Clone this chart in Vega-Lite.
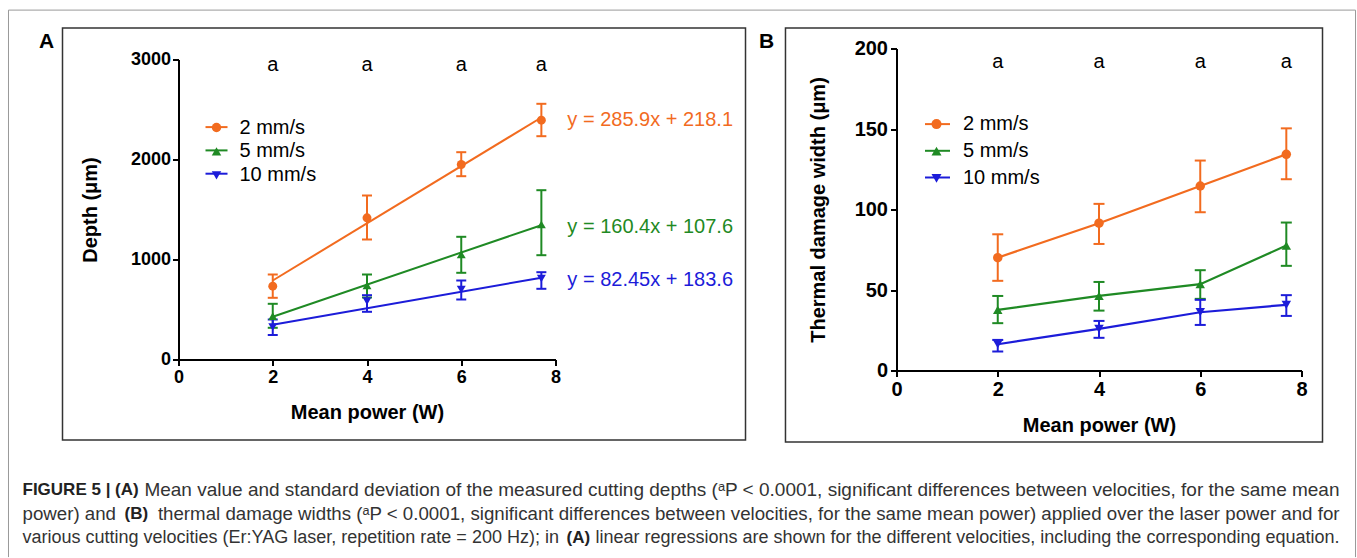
{
  "$schema": "https://vega.github.io/schema/vega-lite/v6.json",
  "background": "white",
  "padding": {"left": 7.5, "top": 9.5, "right": 0, "bottom": 0},
  "spacing": 341,
  "bounds": "flush",
  "center": true,
  "datasets": {
    "one": [{}],
    "depth": [
      {"speed": "2 mm/s", "power": 2, "mean": 733, "lo": 617, "hi": 850},
      {"speed": "2 mm/s", "power": 4, "mean": 1417, "lo": 1200, "hi": 1640},
      {"speed": "2 mm/s", "power": 6, "mean": 1950, "lo": 1833, "hi": 2073},
      {"speed": "2 mm/s", "power": 7.7, "mean": 2393, "lo": 2233, "hi": 2557},
      {"speed": "5 mm/s", "power": 2, "mean": 433, "lo": 317, "hi": 557},
      {"speed": "5 mm/s", "power": 4, "mean": 740, "lo": 620, "hi": 850},
      {"speed": "5 mm/s", "power": 6, "mean": 1050, "lo": 867, "hi": 1227},
      {"speed": "5 mm/s", "power": 7.7, "mean": 1350, "lo": 1043, "hi": 1693},
      {"speed": "10 mm/s", "power": 2, "mean": 325, "lo": 245, "hi": 400},
      {"speed": "10 mm/s", "power": 4, "mean": 583, "lo": 477, "hi": 643},
      {"speed": "10 mm/s", "power": 6, "mean": 700, "lo": 600, "hi": 790},
      {"speed": "10 mm/s", "power": 7.7, "mean": 810, "lo": 707, "hi": 873}
    ],
    "depthfit": [
      {"speed": "2 mm/s", "power": 2, "depth": 790},
      {"speed": "2 mm/s", "power": 7.7, "depth": 2420, "eq": "y = 285.9x + 218.1"},
      {"speed": "5 mm/s", "power": 2, "depth": 428},
      {"speed": "5 mm/s", "power": 7.7, "depth": 1343, "eq": "y = 160.4x + 107.6"},
      {"speed": "10 mm/s", "power": 2, "depth": 348},
      {"speed": "10 mm/s", "power": 7.7, "depth": 818, "eq": "y = 82.45x + 183.6"}
    ],
    "thermal": [
      {"speed": "2 mm/s", "power": 2, "mean": 70.1, "lo": 55.7, "hi": 84.6},
      {"speed": "2 mm/s", "power": 4, "mean": 91.5, "lo": 78.6, "hi": 103.5},
      {"speed": "2 mm/s", "power": 6, "mean": 114.6, "lo": 98.3, "hi": 130.4},
      {"speed": "2 mm/s", "power": 7.7, "mean": 134.3, "lo": 118.8, "hi": 150.4},
      {"speed": "5 mm/s", "power": 2, "mean": 37.7, "lo": 29.4, "hi": 46.3},
      {"speed": "5 mm/s", "power": 4, "mean": 46.3, "lo": 37.2, "hi": 55.0},
      {"speed": "5 mm/s", "power": 6, "mean": 53.6, "lo": 44.5, "hi": 62.3},
      {"speed": "5 mm/s", "power": 7.7, "mean": 77.6, "lo": 65.0, "hi": 91.9},
      {"speed": "10 mm/s", "power": 2, "mean": 16.3, "lo": 11.8, "hi": 19.0},
      {"speed": "10 mm/s", "power": 4, "mean": 25.9, "lo": 20.3, "hi": 30.8},
      {"speed": "10 mm/s", "power": 6, "mean": 36.2, "lo": 28.3, "hi": 43.9},
      {"speed": "10 mm/s", "power": 7.7, "mean": 40.8, "lo": 33.9, "hi": 46.8}
    ],
    "sig": [
      {"power": 2, "label": "a"},
      {"power": 4, "label": "a"},
      {"power": 6, "label": "a"},
      {"power": 7.7, "label": "a"}
    ]
  },
  "resolve": {
    "scale": {"color": "independent", "shape": "independent"},
    "legend": {"color": "independent", "shape": "independent"}
  },
  "hconcat": [
    {
      "width": 377,
      "height": 300,
      "layer": [
        {
          "data": {"name": "one"},
          "mark": {"type": "rect", "fillOpacity": 0, "stroke": "#333", "strokeWidth": 1.5},
          "encoding": {"x": {"datum": -2.4615}, "x2": {"datum": 12.032}, "y": {"datum": 3314}, "y2": {"datum": -806}}
        },
        {
          "data": {"name": "one"},
          "mark": {"type": "text", "fontSize": 21, "fontWeight": "bold", "align": "center", "baseline": "middle", "color": "#000"},
          "encoding": {"x": {"datum": -2.801}, "y": {"datum": 3174}, "text": {"value": "A"}}
        },
        {
          "data": {"name": "one"},
          "mark": {"type": "rule", "strokeWidth": 2, "color": "#f26b1f"},
          "encoding": {"x": {"datum": 0.573}, "x2": {"datum": 1.04}, "y": {"datum": 2324}}
        },
        {
          "data": {"name": "one"},
          "mark": {"type": "rule", "strokeWidth": 2, "color": "#1f8a24"},
          "encoding": {"x": {"datum": 0.573}, "x2": {"datum": 1.04}, "y": {"datum": 2091}}
        },
        {
          "data": {"name": "one"},
          "mark": {"type": "rule", "strokeWidth": 2, "color": "#1c1cd9"},
          "encoding": {"x": {"datum": 0.573}, "x2": {"datum": 1.04}, "y": {"datum": 1858}}
        },
        {
          "data": {"name": "depthfit"},
          "mark": {"type": "line", "strokeWidth": 2},
          "encoding": {
            "x": {"field": "power", "type": "quantitative"},
            "y": {"field": "depth", "type": "quantitative"},
            "color": {
              "field": "speed", "type": "nominal",
              "scale": {"domain": ["2 mm/s", "5 mm/s", "10 mm/s"], "range": ["#f26b1f", "#1f8a24", "#1c1cd9"]},
              "legend": {
                "orient": "none", "legendX": 28, "legendY": 58, "title": null,
                "labelFontSize": 20, "labelOffset": 13, "rowPadding": 3.9, "symbolSize": 90, "symbolStrokeWidth": 0
              }
            }
          }
        },
        {
          "data": {"name": "depth"},
          "mark": {"type": "rule", "strokeWidth": 2},
          "encoding": {
            "x": {"field": "power", "type": "quantitative"},
            "y": {"field": "lo", "type": "quantitative"},
            "y2": {"field": "hi"},
            "color": {"field": "speed", "type": "nominal"}
          }
        },
        {
          "data": {"name": "depth"},
          "mark": {"type": "tick", "orient": "horizontal", "size": 10, "thickness": 2, "opacity": 1},
          "encoding": {
            "x": {"field": "power", "type": "quantitative"},
            "y": {"field": "lo", "type": "quantitative"},
            "color": {"field": "speed", "type": "nominal"}
          }
        },
        {
          "data": {"name": "depth"},
          "mark": {"type": "tick", "orient": "horizontal", "size": 10, "thickness": 2, "opacity": 1},
          "encoding": {
            "x": {"field": "power", "type": "quantitative"},
            "y": {"field": "hi", "type": "quantitative"},
            "color": {"field": "speed", "type": "nominal"}
          }
        },
        {
          "data": {"name": "depth"},
          "mark": {"type": "point", "filled": true, "size": 80, "opacity": 1},
          "encoding": {
            "x": {
              "field": "power", "type": "quantitative",
              "scale": {"domain": [0, 8], "nice": false, "zero": false},
              "axis": {"values": [0, 2, 4, 6, 8], "title": "Mean power (W)", "labelFontSize": 18, "titlePadding": 16}
            },
            "y": {
              "field": "mean", "type": "quantitative",
              "scale": {"domain": [0, 3000], "nice": false},
              "axis": {"values": [0, 1000, 2000, 3000], "format": "d", "title": "Depth (μm)", "labelFontSize": 18, "labelPadding": 2, "titlePadding": 30}
            },
            "color": {
              "field": "speed", "type": "nominal",
              "legend": {
                "orient": "none", "legendX": 28, "legendY": 58, "title": null,
                "labelFontSize": 20, "labelOffset": 13, "rowPadding": 3.9, "symbolSize": 90, "symbolStrokeWidth": 0
              }
            },
            "shape": {
              "field": "speed", "type": "nominal",
              "scale": {"domain": ["2 mm/s", "5 mm/s", "10 mm/s"], "range": ["circle", "triangle-up", "triangle-down"]},
              "legend": null
            }
          }
        },
        {
          "data": {"name": "depthfit"},
          "transform": [{"filter": "datum.eq"}],
          "mark": {"type": "text", "align": "left", "baseline": "middle", "dx": 26, "dy": 2, "fontSize": 20},
          "encoding": {
            "x": {"field": "power", "type": "quantitative"},
            "y": {"field": "depth", "type": "quantitative"},
            "text": {"field": "eq"},
            "color": {"field": "speed", "type": "nominal"}
          }
        },
        {
          "data": {"name": "sig"},
          "mark": {"type": "text", "align": "center", "baseline": "alphabetic", "fontSize": 20, "color": "#000"},
          "encoding": {
            "x": {"field": "power", "type": "quantitative"},
            "y": {"datum": 2890},
            "text": {"field": "label"}
          }
        }
      ]
    },
    {
      "width": 405,
      "height": 322,
      "layer": [
        {
          "data": {"name": "one"},
          "mark": {"type": "rule", "stroke": "#999", "strokeWidth": 1},
          "encoding": {"x": {"datum": -17.541}, "y": {"datum": 223.85}, "y2": {"datum": -115.9}}
        },
        {
          "data": {"name": "one"},
          "mark": {"type": "rule", "stroke": "#999", "strokeWidth": 1},
          "encoding": {"x": {"datum": 9.067}, "y": {"datum": 223.85}, "y2": {"datum": -115.9}}
        },
        {
          "data": {"name": "one"},
          "mark": {"type": "rule", "stroke": "#999", "strokeWidth": 1},
          "encoding": {"x": {"datum": -17.541}, "x2": {"datum": 9.067}, "y": {"datum": 223.85}}
        },
        {
          "data": {"name": "one"},
          "mark": {"type": "rect", "fillOpacity": 0, "stroke": "#333", "strokeWidth": 1.5},
          "encoding": {"x": {"datum": -2.193}, "x2": {"datum": 8.415}, "y": {"datum": 212.67}, "y2": {"datum": -44.47}}
        },
        {
          "data": {"name": "one"},
          "mark": {"type": "text", "fontSize": 21, "fontWeight": "bold", "align": "center", "baseline": "middle", "color": "#000"},
          "encoding": {"x": {"datum": -2.568}, "y": {"datum": 203.98}, "text": {"value": "B"}}
        },
        {
          "data": {"name": "one"},
          "mark": {"type": "text", "fontSize": 17, "fontWeight": "bold", "align": "left", "baseline": "middle", "color": "#222"},
          "encoding": {"x": {"datum": -17.264}, "y": {"datum": -74.29}, "text": {"value": "FIGURE 5 | (A)"}}
        },
        {
          "data": {"name": "one"},
          "mark": {"type": "text", "fontSize": 19, "align": "right", "baseline": "middle", "color": "#333"},
          "encoding": {"x": {"datum": 8.751}, "y": {"datum": -74.29}, "text": {"value": "Mean value and standard deviation of the measured cutting depths (ᵃP < 0.0001, significant differences between velocities, for the same mean"}}
        },
        {
          "data": {"name": "one"},
          "mark": {"type": "text", "fontSize": 18.7, "align": "left", "baseline": "middle", "color": "#333"},
          "encoding": {"x": {"datum": -17.264}, "y": {"datum": -89.19}, "text": {"value": "power) and"}}
        },
        {
          "data": {"name": "one"},
          "mark": {"type": "text", "fontSize": 17, "fontWeight": "bold", "align": "left", "baseline": "middle", "color": "#222"},
          "encoding": {"x": {"datum": -15.25}, "y": {"datum": -89.19}, "text": {"value": "(B)"}}
        },
        {
          "data": {"name": "one"},
          "mark": {"type": "text", "fontSize": 18.7, "align": "right", "baseline": "middle", "color": "#333"},
          "encoding": {"x": {"datum": 8.751}, "y": {"datum": -89.19}, "text": {"value": "thermal damage widths (ᵃP < 0.0001, significant differences between velocities, for the same mean power) applied over the laser power and for"}}
        },
        {
          "data": {"name": "one"},
          "mark": {"type": "text", "fontSize": 18, "align": "left", "baseline": "middle", "color": "#333"},
          "encoding": {"x": {"datum": -17.264}, "y": {"datum": -104.1}, "text": {"value": "various cutting velocities (Er:YAG laser, repetition rate = 200 Hz); in"}}
        },
        {
          "data": {"name": "one"},
          "mark": {"type": "text", "fontSize": 17, "fontWeight": "bold", "align": "left", "baseline": "middle", "color": "#222"},
          "encoding": {"x": {"datum": -6.519}, "y": {"datum": -104.1}, "text": {"value": "(A)"}}
        },
        {
          "data": {"name": "one"},
          "mark": {"type": "text", "fontSize": 18, "align": "right", "baseline": "middle", "color": "#333"},
          "encoding": {"x": {"datum": 8.751}, "y": {"datum": -104.1}, "text": {"value": "linear regressions are shown for the different velocities, including the corresponding equation."}}
        },
        {
          "data": {"name": "one"},
          "mark": {"type": "rule", "strokeWidth": 2, "color": "#f26b1f"},
          "encoding": {"x": {"datum": 0.563}, "x2": {"datum": 1.057}, "y": {"datum": 153.04}}
        },
        {
          "data": {"name": "one"},
          "mark": {"type": "rule", "strokeWidth": 2, "color": "#1f8a24"},
          "encoding": {"x": {"datum": 0.563}, "x2": {"datum": 1.057}, "y": {"datum": 136.46}}
        },
        {
          "data": {"name": "one"},
          "mark": {"type": "rule", "strokeWidth": 2, "color": "#1c1cd9"},
          "encoding": {"x": {"datum": 0.563}, "x2": {"datum": 1.057}, "y": {"datum": 119.88}}
        },
        {
          "data": {"name": "thermal"},
          "mark": {"type": "line", "strokeWidth": 2.2},
          "encoding": {
            "x": {"field": "power", "type": "quantitative"},
            "y": {"field": "mean", "type": "quantitative"},
            "color": {
              "field": "speed", "type": "nominal",
              "scale": {"domain": ["2 mm/s", "5 mm/s", "10 mm/s"], "range": ["#f26b1f", "#1f8a24", "#1c1cd9"]},
              "legend": {
                "orient": "none", "legendX": 30, "legendY": 65.6, "title": null,
                "labelFontSize": 20, "labelOffset": 16.5, "rowPadding": 7.1, "symbolSize": 100, "symbolStrokeWidth": 0
              }
            }
          }
        },
        {
          "data": {"name": "thermal"},
          "mark": {"type": "rule", "strokeWidth": 2},
          "encoding": {
            "x": {"field": "power", "type": "quantitative"},
            "y": {"field": "lo", "type": "quantitative"},
            "y2": {"field": "hi"},
            "color": {"field": "speed", "type": "nominal"}
          }
        },
        {
          "data": {"name": "thermal"},
          "mark": {"type": "tick", "orient": "horizontal", "size": 11, "thickness": 2, "opacity": 1},
          "encoding": {
            "x": {"field": "power", "type": "quantitative"},
            "y": {"field": "lo", "type": "quantitative"},
            "color": {"field": "speed", "type": "nominal"}
          }
        },
        {
          "data": {"name": "thermal"},
          "mark": {"type": "tick", "orient": "horizontal", "size": 11, "thickness": 2, "opacity": 1},
          "encoding": {
            "x": {"field": "power", "type": "quantitative"},
            "y": {"field": "hi", "type": "quantitative"},
            "color": {"field": "speed", "type": "nominal"}
          }
        },
        {
          "data": {"name": "thermal"},
          "mark": {"type": "point", "filled": true, "size": 90, "opacity": 1},
          "encoding": {
            "x": {
              "field": "power", "type": "quantitative",
              "scale": {"domain": [0, 8], "nice": false, "zero": false},
              "axis": {"values": [0, 2, 4, 6, 8], "title": "Mean power (W)", "labelFontSize": 20, "titlePadding": 16}
            },
            "y": {
              "field": "mean", "type": "quantitative",
              "scale": {"domain": [0, 200], "nice": false},
              "axis": {"values": [0, 50, 100, 150, 200], "title": "Thermal damage width (μm)", "labelFontSize": 20, "labelPadding": 3, "titlePadding": 26}
            },
            "color": {
              "field": "speed", "type": "nominal",
              "legend": {
                "orient": "none", "legendX": 30, "legendY": 65.6, "title": null,
                "labelFontSize": 20, "labelOffset": 16.5, "rowPadding": 7.1, "symbolSize": 100, "symbolStrokeWidth": 0
              }
            },
            "shape": {
              "field": "speed", "type": "nominal",
              "scale": {"domain": ["2 mm/s", "5 mm/s", "10 mm/s"], "range": ["circle", "triangle-up", "triangle-down"]},
              "legend": null
            }
          }
        },
        {
          "data": {"name": "sig"},
          "mark": {"type": "text", "align": "center", "baseline": "alphabetic", "fontSize": 20, "color": "#000"},
          "encoding": {
            "x": {"field": "power", "type": "quantitative"},
            "y": {"datum": 187.6},
            "text": {"field": "label"}
          }
        }
      ]
    }
  ],
  "config": {
    "font": "Liberation Sans",
    "view": {"stroke": null},
    "axis": {
      "domainColor": "#000", "domainWidth": 2, "tickColor": "#000", "tickWidth": 2, "tickSize": 6,
      "labelFont": "Liberation Sans", "labelFontWeight": "bold", "labelColor": "#000", "labelPadding": 3,
      "labelFlush": false, "labelOverlap": false, "grid": false,
      "titleFont": "Liberation Sans", "titleFontWeight": "bold", "titleColor": "#000", "titleFontSize": 20
    },
    "legend": {"labelFont": "Liberation Sans", "labelColor": "#000"}
  }
}
